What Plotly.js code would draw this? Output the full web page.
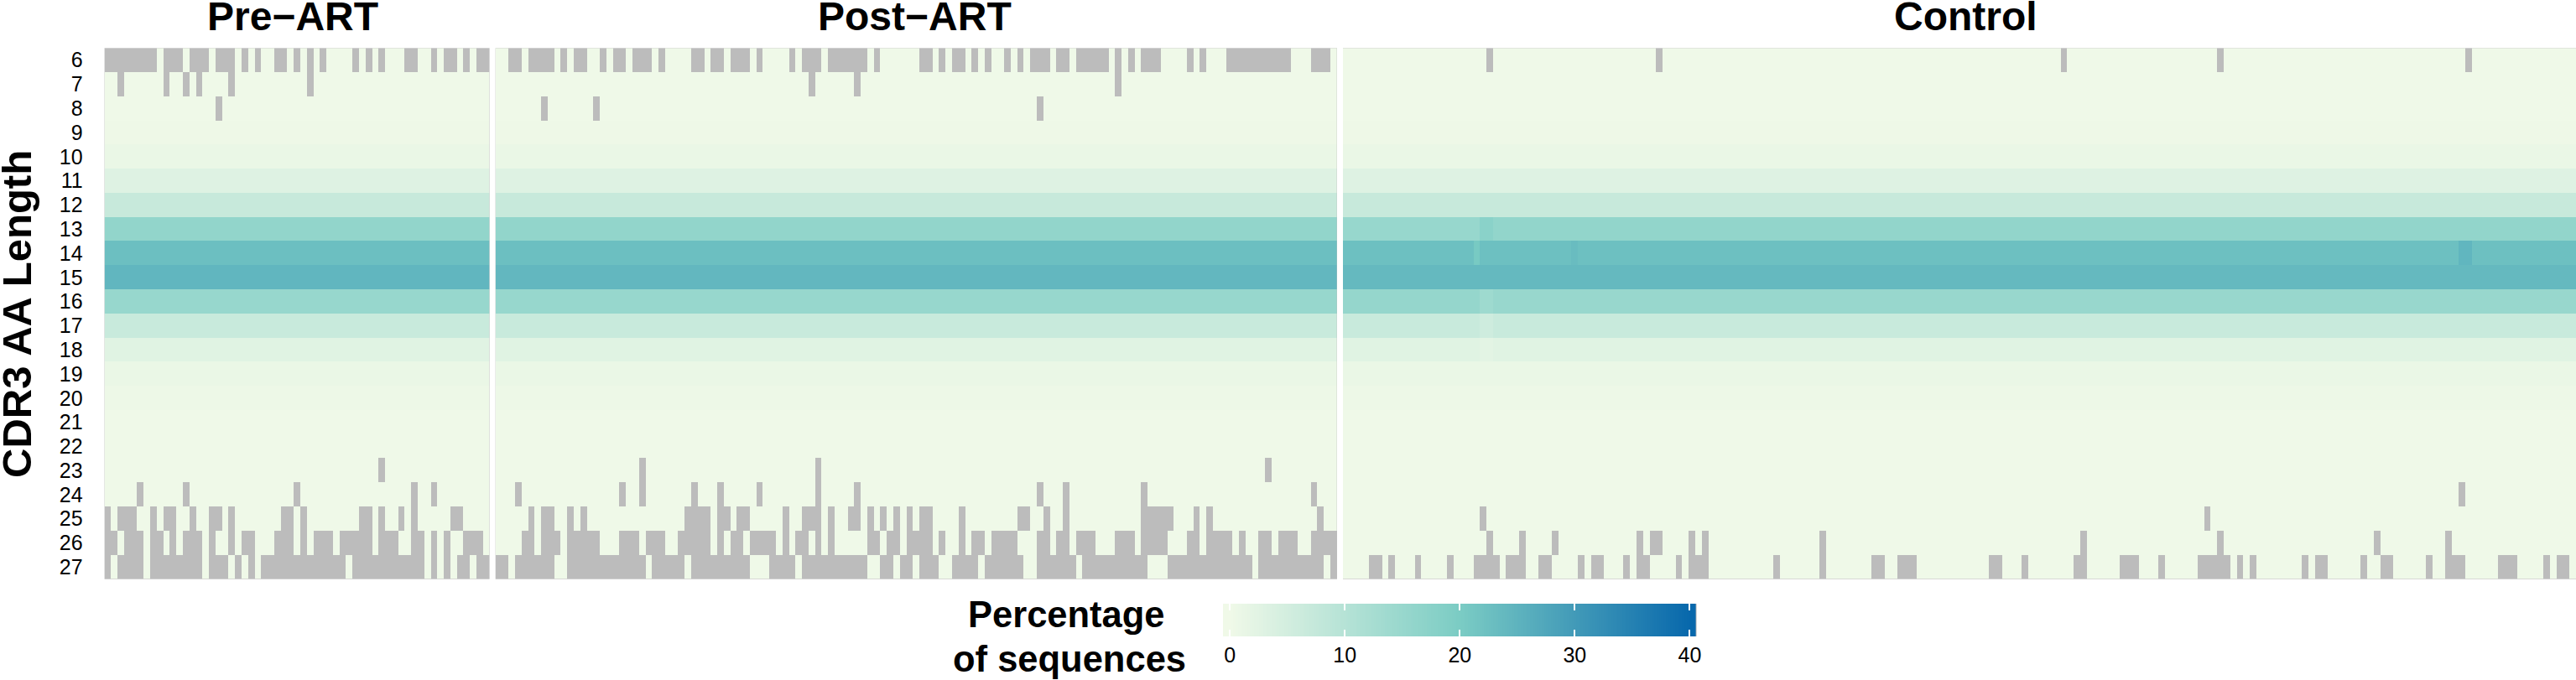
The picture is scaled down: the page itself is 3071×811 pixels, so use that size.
<!DOCTYPE html>
<html>
<head>
<meta charset="utf-8">
<script src="https://cdn.plot.ly/plotly-3.0.1.min.js"></script>
<style>
    html, body { margin: 0; padding: 0; background: white; }
</style>
</head>
<body>
<div id="chart1" style="width:3071px;height:811px;"></div>
<script>

const W = 3071
const H = 811

const cdr3Lengths = ['6','7','8','9','10','11','12','13','14','15','16','17','18','19','20','21','22','23','24','25','26','27']

// percentage of sequences per CDR3 length
const preLevels     = [0.1,0.1,0.2,0.4,1.0,3.0,7.0,16.0,22.6,24.5,15.2,6.8,2.8,1.0,0.5,0.2,0.1,0.1,0.1,0.1,0.1,0.1]
const postLevels    = [0.1,0.1,0.2,0.4,1.0,3.0,7.0,16.0,22.6,24.2,15.2,6.8,2.8,1.0,0.5,0.2,0.1,0.1,0.1,0.1,0.1,0.1]
const controlLevels = [0.1,0.1,0.2,0.4,1.0,3.0,7.0,16.0,22.4,23.8,15.0,6.8,2.8,1.0,0.5,0.2,0.1,0.1,0.1,0.1,0.1,0.1]

const nPre = 59
const nPost = 129
const nControl = 189

// samples with no sequences: [row label, [first col, last col], ...]
const preMissing = [
    [6, [0,7],[9,11],[13,15],[17,19],[21,21],[23,23],[26,27],[29,29],[31,31],[33,33],[38,38],[40,40],[42,42],[46,47],[50,50],[52,53],[55,55],[57,58]],
    [7, [2,2],[9,9],[12,12],[14,14],[19,19],[31,31]],
    [8, [17,17]],
    [23, [42,42]],
    [24, [5,5],[12,12],[29,29],[47,47],[50,50]],
    [25, [0,0],[2,4],[7,7],[9,10],[13,13],[16,17],[19,19],[27,28],[30,30],[39,40],[42,42],[45,45],[47,47],[53,54]],
    [26, [0,1],[3,5],[7,8],[10,10],[12,14],[16,16],[19,19],[21,22],[26,28],[30,30],[32,34],[36,40],[42,44],[47,48],[50,50],[52,52],[55,57]],
    [27, [0,0],[2,5],[7,14],[16,18],[20,20],[22,22],[24,36],[38,48],[50,50],[52,52],[54,55],[57,58]],
]
const postMissing = [
    [6, [2,3],[5,8],[10,10],[12,13],[16,16],[18,19],[21,23],[25,25],[30,31],[33,34],[36,38],[40,40],[45,45],[47,49],[51,56],[58,58],[65,66],[68,68],[70,71],[73,73],[75,75],[78,78],[80,80],[82,84],[86,87],[89,93],[95,95],[97,97],[99,101],[106,106],[108,108],[112,121],[125,127]],
    [7, [48,48],[55,55],[95,95]],
    [8, [7,7],[15,15],[83,83]],
    [23, [22,22],[49,49],[118,118]],
    [24, [3,3],[19,19],[22,22],[30,30],[34,34],[40,40],[49,49],[55,55],[83,83],[87,87],[99,99],[125,125]],
    [25, [5,5],[7,8],[11,11],[13,13],[29,32],[34,35],[37,38],[44,44],[47,49],[51,51],[54,55],[57,57],[59,59],[61,61],[63,63],[65,66],[71,71],[80,81],[84,84],[87,87],[99,103],[107,107],[109,109],[126,126]],
    [26, [4,5],[7,9],[11,15],[19,21],[23,25],[28,32],[34,34],[36,37],[39,42],[44,44],[46,47],[49,49],[51,51],[57,58],[60,61],[63,66],[68,68],[71,71],[73,74],[76,79],[83,84],[86,87],[89,91],[95,97],[99,102],[106,107],[109,112],[114,114],[117,118],[120,122],[125,128]],
    [27, [0,1],[3,8],[11,22],[24,28],[30,38],[42,45],[47,56],[59,60],[62,63],[65,67],[70,73],[75,80],[83,88],[90,99],[103,112],[113,115],[117,126],[128,128]],
]
const controlMissing = [
    [6, [22,22],[48,48],[110,110],[134,134],[172,172]],
    [24, [171,171]],
    [25, [21,21],[132,132]],
    [26, [22,22],[27,27],[32,32],[45,45],[47,48],[53,53],[55,55],[73,73],[113,113],[134,134],[158,158],[169,169]],
    [27, [4,5],[7,7],[11,11],[16,16],[20,23],[25,27],[30,31],[36,36],[38,39],[43,43],[45,46],[51,51],[53,55],[66,66],[73,73],[81,82],[85,87],[99,100],[104,104],[112,113],[119,121],[125,125],[131,135],[137,137],[139,139],[147,147],[149,150],[156,156],[159,160],[166,166],[169,171],[177,179],[184,184],[186,187]],
]

// columns that visibly differ from their band: [row label, first col, last col, value]
const controlStreaks = [
    [13, 0, 20, 15.2],
    [13, 21, 22, 17.5],
    [14, 20, 20, 20.5],
    [14, 35, 35, 23.2],
    [14, 171, 172, 24.5],
    [16, 0, 20, 15.6],
    [16, 21, 22, 14.0],
    [17, 21, 22, 5.8],
    [18, 21, 22, 2.2],
]

const legendTicks = [0,10,20,30,40]
const legendLimits = [-0.6,40.6]

function buildZ(levels, n, missing, streaks) {
    var z = []
    for (var r = 0; r < cdr3Lengths.length; r++) {
        var row = []
        for (var c = 0; c < n; c++) { row.push(levels[r]) }
        z.push(row)
    }
    streaks.forEach(function (s) {
        var r = cdr3Lengths.indexOf(String(s[0]))
        for (var c = s[1]; c <= s[2]; c++) { z[r][c] = s[3] }
    })
    missing.forEach(function (m) {
        var r = cdr3Lengths.indexOf(String(m[0]))
        m.slice(1).forEach(function (run) {
            for (var c = run[0]; c <= run[1]; c++) { z[r][c] = null }
        })
    })
    return z
}

function range(a, b) {
    var out = []
    for (var i = a; i < b; i++) { out.push(i) }
    return out
}

// pixel positions to paper fractions
const xDom = (a, b) => [a / W, b / W]
const yDom = (a, b) => [1 - b / H, 1 - a / H]

const plotTop = 57.3
const plotBottom = 690.7
const NA_GRAY = '#bcbcbc'
const FONT = 'Liberation Sans, Arial, sans-serif'

function heat(z, n, ax) {
    return {
        type: 'heatmap',
        z: z,
        x: range(0, n),
        y: cdr3Lengths,
        coloraxis: 'coloraxis',
        xaxis: 'x' + ax,
        yaxis: 'y' + ax,
        hoverongaps: false,
    }
}

// ramp for the colour legend
var legendX = []
for (var v = legendLimits[0]; v <= legendLimits[1]; v += 0.2) { legendX.push(v) }

var traces = [
    heat(buildZ(preLevels, nPre, preMissing, []), nPre, ''),
    heat(buildZ(postLevels, nPost, postMissing, []), nPost, '2'),
    heat(buildZ(controlLevels, nControl, controlMissing, controlStreaks), nControl, '3'),
    { type: 'heatmap', z: [legendX], x: legendX, coloraxis: 'coloraxis', xaxis: 'x4', yaxis: 'y4', hoverinfo: 'skip' },
]

function panelX(dom, n, anchor) {
    return { domain: dom, range: [-0.5, n - 0.5], visible: false, anchor: anchor, fixedrange: true }
}
function panelY(anchor, show) {
    return {
        domain: yDom(plotTop, plotBottom),
        type: 'category',
        range: [21.5, -0.5],
        anchor: anchor,
        showgrid: false,
        zeroline: false,
        showticklabels: show,
        ticks: show ? 'outside' : '',
        ticklen: 20,
        tickcolor: 'rgba(0,0,0,0)',
        tickfont: { family: FONT, size: 25, color: 'black' },
        dtick: 1,
        fixedrange: true,
    }
}
function headline(text, xref, shift) {
    return {
        text: text, xref: xref + ' domain', yref: 'paper', x: 0.5, y: 1 - 20 / H, xshift: shift,
        showarrow: false, font: { family: FONT, size: 48, color: 'black', weight: 'bold' },
        yanchor: 'middle',
    }
}
function legendLine(text, y, x) {
    return {
        text: text, xref: 'paper', yref: 'paper', x: x / W, y: 1 - y / H,
        showarrow: false, yanchor: 'middle', xanchor: 'center',
        font: { family: FONT, size: 43.5, color: 'black', weight: 'bold' },
    }
}

var layout = {
    width: W,
    height: H,
    margin: { l: 0, r: 0, t: 0, b: 0 },
    paper_bgcolor: 'white',
    plot_bgcolor: NA_GRAY,
    showlegend: false,
    coloraxis: {
        cmin: 0,
        cmax: 40,
        colorscale: [[0, '#F0F9E8'], [0.5, '#7BCCC4'], [1, '#0868AC']],
        showscale: false,
    },
    xaxis: panelX(xDom(124.6, 583.6), nPre, 'y'),
    yaxis: panelY('x', true),
    xaxis2: panelX(xDom(590.7, 1594), nPost, 'y2'),
    yaxis2: panelY('x2', false),
    xaxis3: panelX(xDom(1601, 3071), nControl, 'y3'),
    yaxis3: panelY('x3', false),
    xaxis4: {
        domain: xDom(1458, 2022.6),
        range: legendLimits,
        anchor: 'y4',
        tickvals: legendTicks,
        ticks: 'inside',
        mirror: 'ticks',
        ticklen: 8,
        tickwidth: 2,
        tickcolor: 'white',
        showgrid: false,
        zeroline: false,
        showline: false,
        tickfont: { family: FONT, size: 25, color: 'black' },
        ticklabelstandoff: 5,
        fixedrange: true,
    },
    yaxis4: { domain: yDom(720, 759), visible: false, anchor: 'x4', fixedrange: true },
    annotations: [
        headline('Pre\u2212ART', 'x', -5),
        headline('Post\u2212ART', 'x2', -2),
        headline('Control', 'x3', 7),
        {
            text: 'CDR3 AA Length', xref: 'paper', yref: 'paper', x: 20 / W, y: 1 - 375 / H,
            textangle: -90, showarrow: false, yanchor: 'middle', xanchor: 'center',
            font: { family: FONT, size: 49, color: 'black', weight: 'bold' },
        },
        legendLine('Percentage', 733, 1271),
        legendLine('of sequences', 786, 1275),
    ],
}

Plotly.newPlot('chart1', traces, layout, { displayModeBar: false, responsive: false })

</script>
</body>
</html>
